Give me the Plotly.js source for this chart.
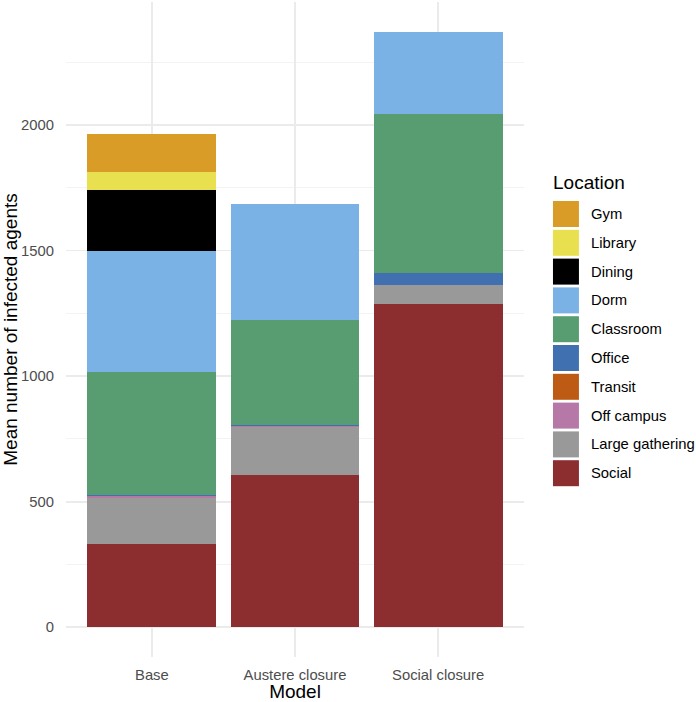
<!DOCTYPE html>
<html><head><meta charset="utf-8">
<script src="https://cdn.plot.ly/plotly-3.0.1.min.js"></script>
<style>html,body{margin:0;padding:0;background:#fff}#chart{width:696px;height:702px}</style>
</head><body><div id="chart"></div>
<script>
// ---- data ----
const models = ["Base", "Austere closure", "Social closure"];
const locations = ["Social", "Large gathering", "Off campus", "Transit", "Office", "Classroom", "Dorm", "Dining", "Library", "Gym"];
const social         = [330, 605, 1286];
const largeGathering = [184, 192, 77];
const offCampus      = [7, 5, 0];
const transit        = [1, 0, 0];
const office         = [3, 3, 46];
const classroom      = [492, 417, 635];
const dorm           = [481, 465, 327];
const dining         = [242, 0, 0];
const library        = [72, 0, 0];
const gym            = [151, 0, 0];
const yTicks = [0, 500, 1000, 1500, 2000];
const colors = ["#8C2D30", "#999999", "#B679A7", "#BD5B14", "#4070B0", "#589D71", "#7AB2E5", "#000000", "#E8E04F", "#D89C27"];

const series = [social, largeGathering, offCampus, transit, office, classroom, dorm, dining, library, gym];

const FONT = "Liberation Sans, Arial, Helvetica, sans-serif";

const traces = series.map((vals, i) => ({
  type: "bar",
  name: locations[i],
  x: models,
  y: vals,
  marker: {color: colors[i], line: {width: 0}},
  showlegend: false
}));

// plot area in pixels
const W = 696, H = 702;
const L = 65.5, R = 524, T = 2, B = 657;
const px2x = p => (p - L) / (R - L);
const py2y = p => (B - p) / (B - T);

// manual ggplot-style legend (top to bottom: reversed stacking order)
const shapes = [];
const annotations = [];
annotations.push({
  xref: "paper", yref: "paper", x: px2x(551), y: py2y(183),
  xanchor: "left", yanchor: "middle", showarrow: false,
  text: "Location", font: {family: FONT, size: 19, color: "#000"}
});
const order = locations.map((_, i) => i).reverse();
order.forEach((idx, k) => {
  const cy = 214 + k * 28.8;
  shapes.push({
    type: "rect", xref: "paper", yref: "paper",
    x0: px2x(553), x1: px2x(579), y0: py2y(cy - 13), y1: py2y(cy + 13),
    fillcolor: colors[idx], line: {width: 0}
  });
  annotations.push({
    xref: "paper", yref: "paper", x: px2x(589), y: py2y(cy),
    xanchor: "left", yanchor: "middle", showarrow: false,
    text: locations[idx], font: {family: FONT, size: 14.8, color: "#000"}
  });
});

const layout = {
  width: W, height: H,
  margin: {l: L, r: W - R, t: T, b: H - B, pad: 0},
  paper_bgcolor: "#fff", plot_bgcolor: "#fff",
  barmode: "stack", bargap: 0.1,
  font: {family: FONT},
  xaxis: {
    type: "category", range: [-0.6, 2.6],
    showgrid: true, gridcolor: "#EBEBEB", gridwidth: 1.8,
    zeroline: false, showline: false,
    ticks: "outside", ticklen: 4, tickcolor: "rgba(0,0,0,0)",
    tickfont: {family: FONT, size: 14.8, color: "#4D4D4D"},
    title: {text: "Model", font: {family: FONT, size: 19, color: "#000"}, standoff: 3}
  },
  yaxis: {
    range: [-118.5, 2489.6],
    tickvals: yTicks, ticktext: yTicks.map(String),
    showgrid: true, gridcolor: "#EBEBEB", gridwidth: 1.8,
    minor: {dtick: 250, tick0: 0, showgrid: true, gridcolor: "#F2F2F2", gridwidth: 0.9, ticks: ""},
    zeroline: false, showline: false,
    ticks: "outside", ticklen: 8, tickcolor: "rgba(0,0,0,0)",
    tickfont: {family: FONT, size: 14.8, color: "#4D4D4D"},
    title: {text: "Mean number of infected agents", font: {family: FONT, size: 19, color: "#000"}, standoff: 4}
  },
  shapes: shapes,
  annotations: annotations
};

Plotly.newPlot("chart", traces, layout, {displayModeBar: false, staticPlot: true});
</script>
</body></html>
